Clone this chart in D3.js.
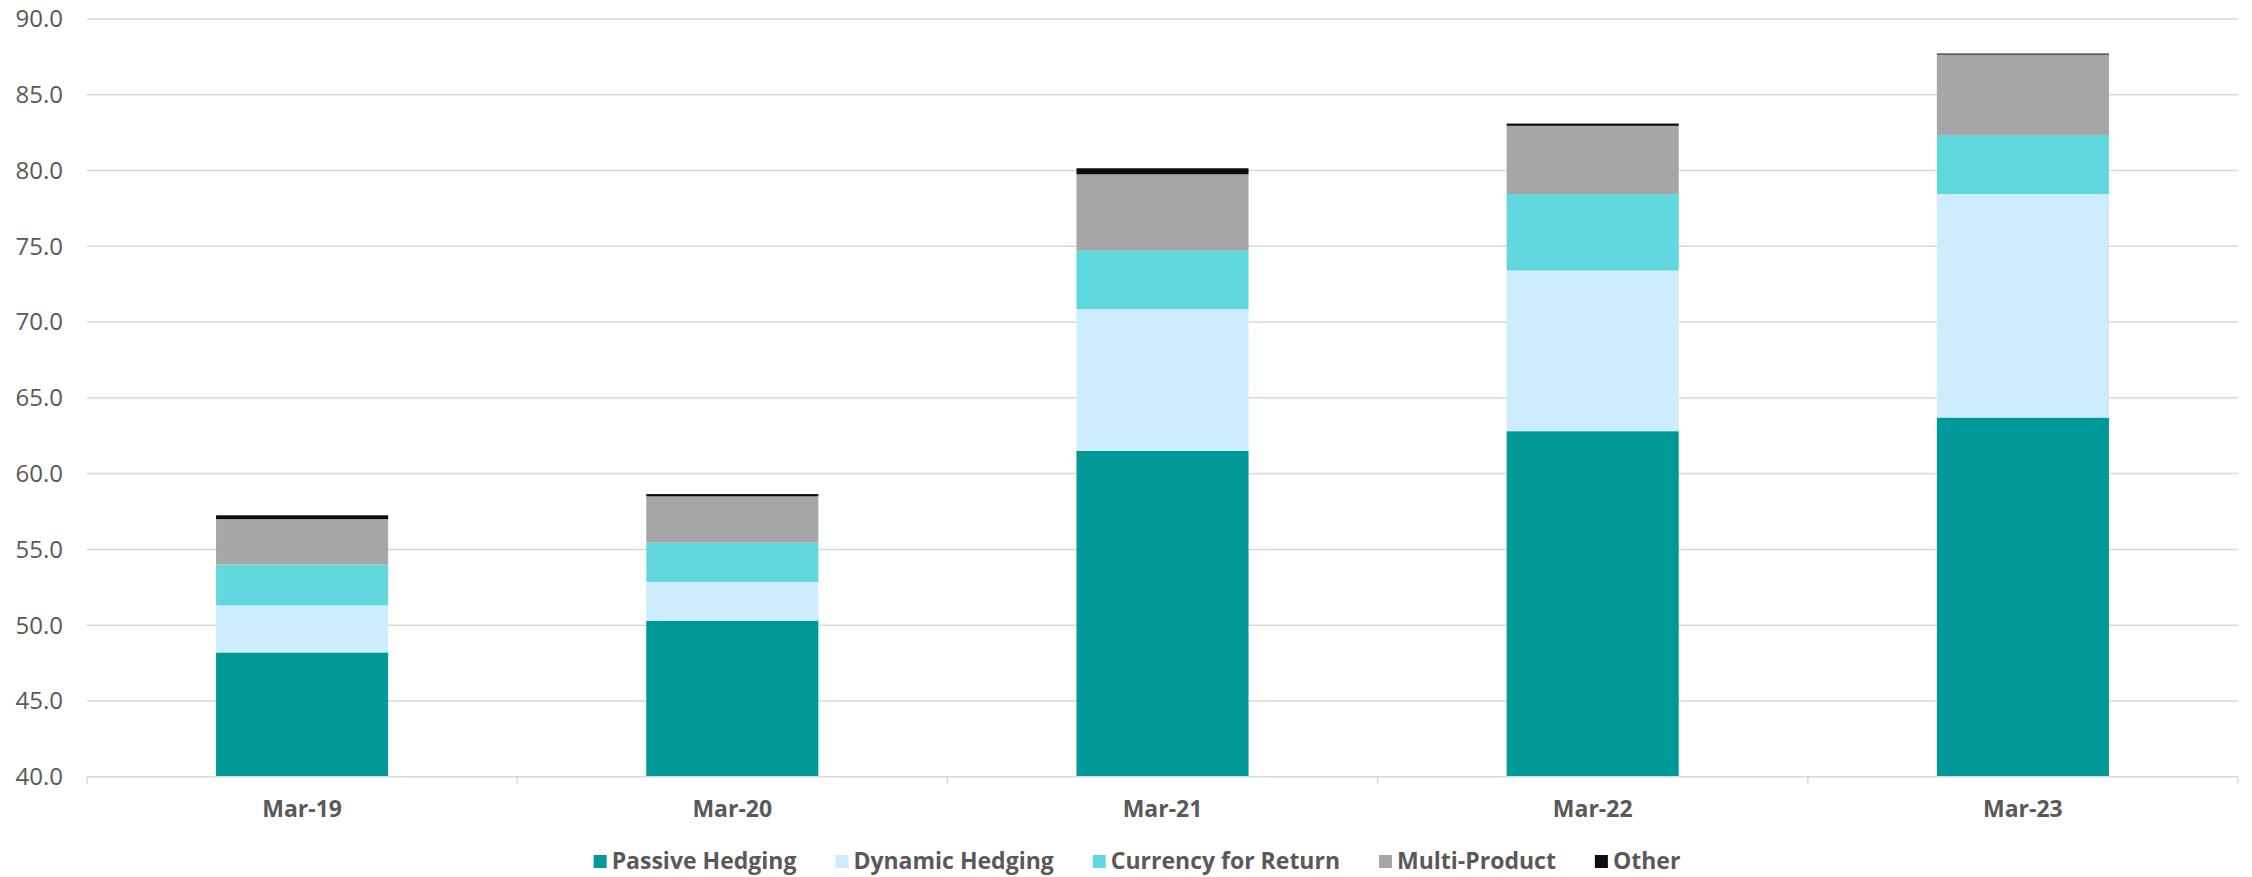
<!DOCTYPE html>
<html>
<head>
<meta charset="utf-8">
<script src="https://cdn.jsdelivr.net/npm/d3@7"></script>
<style>
  body { margin: 0; background: #fff; }
  text { font-family: "Open Sans", sans-serif; fill: #595959; }
</style>
</head>
<body>
<div id="chart"></div>
<script>
const categories = ["Mar-19", "Mar-20", "Mar-21", "Mar-22", "Mar-23"];
const seriesNames = ["Passive Hedging", "Dynamic Hedging", "Currency for Return", "Multi-Product", "Other"];
const passive = [48.2, 50.3, 61.5, 62.8, 63.7];
const dynamic = [3.1, 2.55, 9.35, 10.6, 14.75];
const currency = [2.7, 2.6, 3.9, 5.05, 3.9];
const multi = [3.0, 3.05, 5.0, 4.5, 5.3];
const other = [0.25, 0.15, 0.4, 0.15, 0.07];
const yTicks = [40, 45, 50, 55, 60, 65, 70, 75, 80, 85, 90];
const colors = ["#009999", "#cdecfe", "#61d8de", "#a6a6a6", "#0d0d0d"];

const w = 2252;
const h = 877;
const margin = { top: 19, right: 14, bottom: 100, left: 87 };

const svg = d3.select("#chart").append("svg").attr("width", w).attr("height", h);

const rows = categories.map((c, i) => ({
  cat: c,
  "Passive Hedging": passive[i],
  "Dynamic Hedging": dynamic[i],
  "Currency for Return": currency[i],
  "Multi-Product": multi[i],
  Other: other[i],
}));
const stacked = d3.stack().keys(seriesNames)(rows);

const x = d3
  .scaleBand()
  .domain(categories)
  .range([margin.left, w - margin.right])
  .paddingInner(0.6)
  .paddingOuter(0.3);
const y = d3
  .scaleLinear()
  .domain([40, 90])
  .range([h - margin.bottom - 0.3, margin.top])
  .clamp(true);

// gridlines
svg
  .append("g")
  .selectAll("line")
  .data(yTicks.slice(1))
  .enter()
  .append("line")
  .attr("x1", margin.left)
  .attr("x2", w - margin.right)
  .attr("y1", (d) => y(d))
  .attr("y2", (d) => y(d))
  .attr("stroke", "#d9d9d9")
  .attr("stroke-width", 1.5);

// y labels
svg
  .append("g")
  .selectAll("text")
  .data(yTicks)
  .enter()
  .append("text")
  .attr("x", 63)
  .attr("y", (d) => y(d))
  .attr("dy", "0.35em")
  .attr("text-anchor", "end")
  .attr("font-size", 24)
  .text((d) => d.toFixed(1));

// bars
svg
  .append("g")
  .selectAll("g")
  .data(stacked)
  .enter()
  .append("g")
  .attr("fill", (d, i) => colors[i])
  .selectAll("rect")
  .data((d) => d)
  .enter()
  .append("rect")
  .attr("x", (d) => x(d.data.cat))
  .attr("width", x.bandwidth())
  .attr("y", (d) => y(d[1]))
  .attr("height", (d) => y(d[0]) - y(d[1]));

// x axis line + boundary ticks
const axisY = y(40);
const step = x.step();
const xAxis = svg.append("g");
xAxis
  .append("line")
  .attr("x1", margin.left)
  .attr("x2", w - margin.right)
  .attr("y1", axisY)
  .attr("y2", axisY)
  .attr("stroke", "#d9d9d9")
  .attr("stroke-width", 1.5);
xAxis
  .selectAll("line.tick")
  .data(d3.range(categories.length + 1))
  .enter()
  .append("line")
  .attr("class", "tick")
  .attr("x1", (i) => margin.left + i * step)
  .attr("x2", (i) => margin.left + i * step)
  .attr("y1", axisY)
  .attr("y2", axisY + 7)
  .attr("stroke", "#d9d9d9")
  .attr("stroke-width", 1.5);
xAxis
  .selectAll("text")
  .data(categories)
  .enter()
  .append("text")
  .attr("x", (d) => x(d) + x.bandwidth() / 2)
  .attr("y", 817)
  .attr("text-anchor", "middle")
  .attr("font-size", 23)
  .attr("font-weight", "bold")
  .text((d) => d);

// legend
const legend = svg.append("g").attr("transform", "translate(0,869)");
const items = legend
  .selectAll("g")
  .data(seriesNames)
  .enter()
  .append("g");
items
  .append("rect")
  .attr("width", 13)
  .attr("height", 13)
  .attr("y", -14)
  .attr("fill", (d, i) => colors[i]);
items
  .append("text")
  .attr("x", 18)
  .attr("font-size", 23)
  .attr("font-weight", "bold")
  .text((d) => d);
let pos = 0;
const offsets = [];
items.each(function () {
  offsets.push(pos);
  pos += 18 + this.querySelector("text").getComputedTextLength() + 39;
});
const total = pos - 39;
const start = 1137 - total / 2;
items.attr("transform", (d, i) => `translate(${start + offsets[i]},0)`);
</script>
</body>
</html>
